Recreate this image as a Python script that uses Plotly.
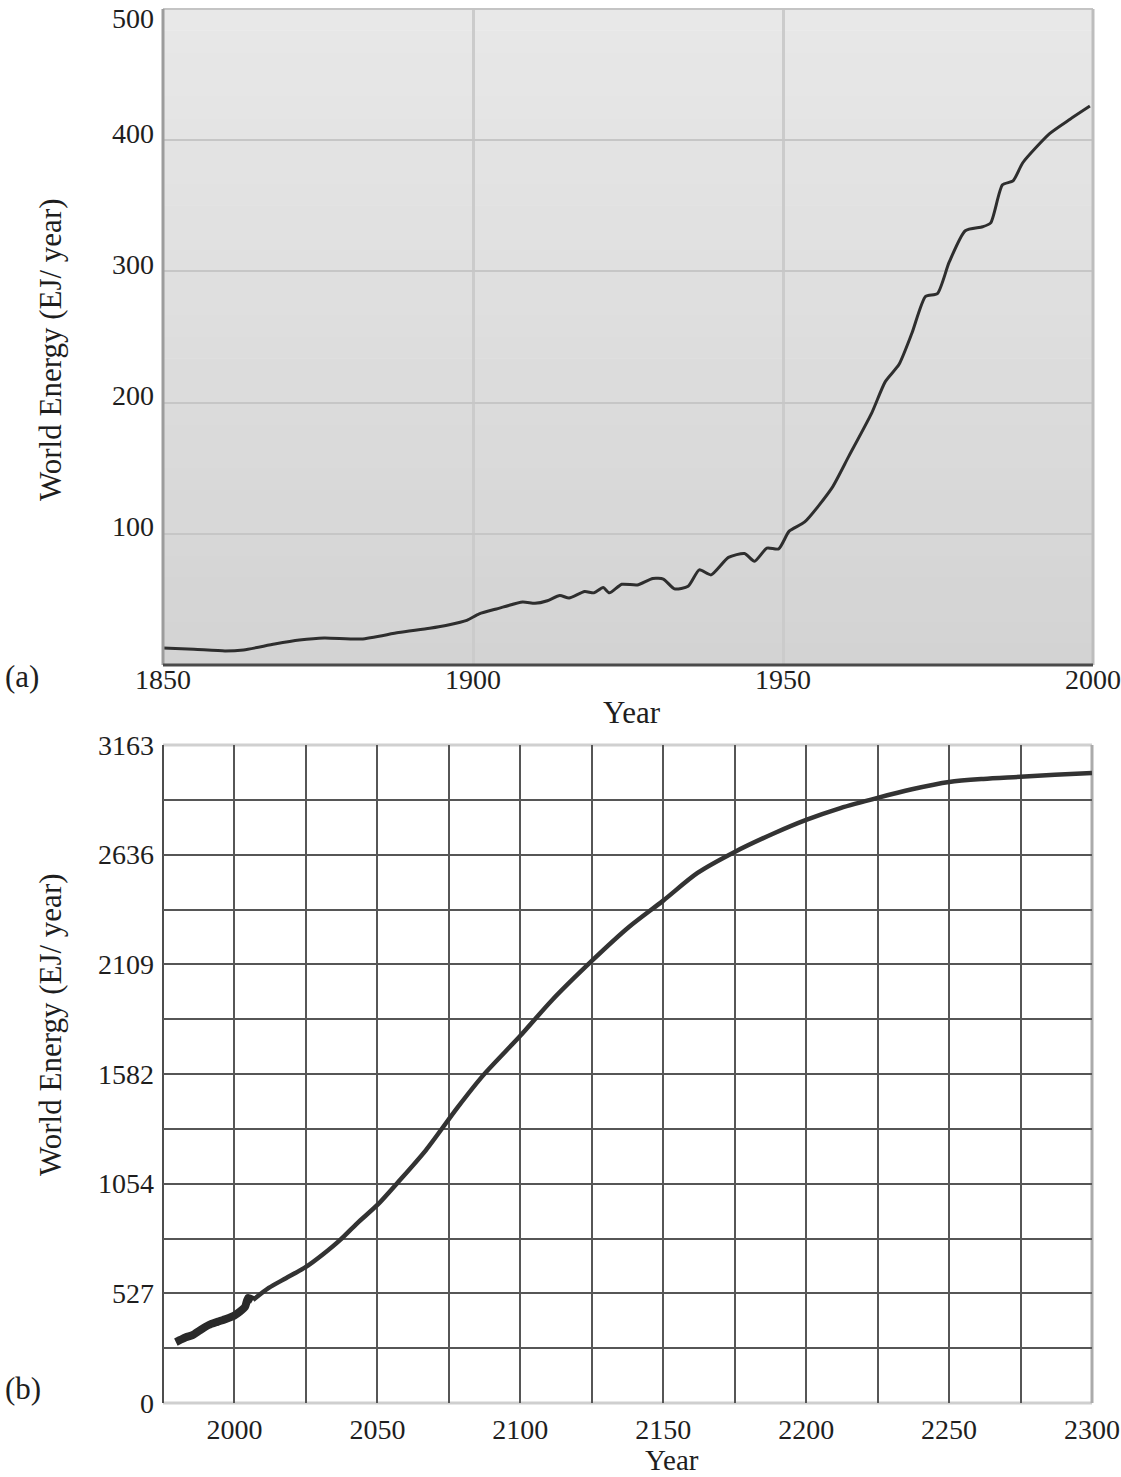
import plotly.graph_objects as go

# ---------------- data ----------------
# (a) historical world energy use, 1850-2000 (EJ/year)
hist_years = [1850, 1855, 1860, 1863, 1868, 1872, 1876, 1882, 1888, 1893, 1896, 1899,
              1901, 1904, 1908, 1910, 1912, 1914, 1915.5, 1918, 1919.5, 1921, 1922,
              1924, 1926.5, 1929, 1930.7, 1932.5, 1934.7, 1936.5, 1938.4, 1941.2,
              1943.8, 1945.4, 1947.4, 1949.3, 1951, 1953.5, 1957.9, 1960.6, 1964.3,
              1966.5, 1968.7, 1970.8, 1973, 1974.9, 1976.8, 1979.4, 1982.2, 1983.5,
              1985.4, 1987.1, 1988.7, 1993, 1996.3, 1999.5]
hist_energy = [13, 12, 10.7, 11.5, 16, 19, 20.6, 19.8, 24.7, 28, 30.5, 34,
               39, 43, 48, 47, 49, 53, 51, 56, 55, 59, 55,
               61.5, 61, 66, 65.5, 58, 60, 72.5, 68.7, 82,
               85, 79, 89, 88.5, 102, 109, 135, 159, 192,
               216, 229, 253, 281, 283, 307, 331, 334, 337,
               366, 369, 383, 405, 416, 426]

# (b) recent record and long-range projection, EJ/year
recent_years = [1979.5, 1981, 1983, 1985.5, 1988, 1991, 1994, 1997, 2000, 2002,
                2003.7, 2004.8, 2006.5]
recent_energy = [293, 303, 316, 327, 350, 375, 390, 404, 421, 440,
                 462, 505, 495]

proj_years = [2006.5, 2012, 2018, 2025, 2031, 2037, 2043, 2050, 2057, 2067,
              2078, 2087, 2100, 2111, 2125, 2138, 2150, 2162, 2175, 2189,
              2200, 2212, 2225, 2237, 2250, 2262, 2275, 2287, 2300]
proj_energy = [495, 553, 600, 654, 715, 784, 865, 952, 1058, 1216,
               1420, 1575, 1765, 1935, 2125, 2288, 2415, 2548, 2649, 2740,
               2803, 2860, 2909, 2950, 2985, 3000, 3010, 3020, 3029]

# axis ticks
a_x_ticks = [1850, 1900, 1950, 2000]
a_y_ticks = [100, 200, 300, 400, 500]
b_x_ticks = [2000, 2050, 2100, 2150, 2200, 2250, 2300]
b_y_max = 3163
b_y_labels = ["0", "527", "1054", "1582", "2109", "2636", "3163"]

# ---------------- layout helpers ----------------
W, H = 1121, 1477
FONT = "Liberation Serif, Times New Roman, serif"
TXT = "#1e1e1e"


def px(x):
    return x / W


def py(y):
    return 1 - y / H


A_LEFT, A_RIGHT, A_TOP, A_BOT = 163, 1093, 9, 665
B_LEFT, B_RIGHT, B_TOP, B_BOT = 163, 1092, 745, 1403

fig = go.Figure()

fig.add_trace(go.Scatter(
    x=hist_years, y=hist_energy, mode="lines", xaxis="x", yaxis="y",
    line=dict(color="#2e2e2e", width=3, shape="spline", smoothing=0.6),
    showlegend=False, hoverinfo="skip"))

fig.add_trace(go.Scatter(
    x=proj_years, y=proj_energy, mode="lines", xaxis="x2", yaxis="y2",
    line=dict(color="#333333", width=4.5, shape="spline", smoothing=0.8),
    showlegend=False, hoverinfo="skip"))

fig.add_trace(go.Scatter(
    x=recent_years, y=recent_energy, mode="lines", xaxis="x2", yaxis="y2",
    line=dict(color="#2a2a2a", width=8, shape="spline", smoothing=0.6),
    showlegend=False, hoverinfo="skip"))

shapes = []

# soft vertical shading behind panel (a)
n_bands = 30
top_c, bot_c = 232, 211
for i in range(n_bands):
    f0, f1 = i / n_bands, (i + 1) / n_bands
    c = round(bot_c + (top_c - bot_c) * (f0 + f1) / 2)
    shapes.append(dict(type="rect", xref="x domain", yref="y domain",
                       x0=0, x1=1, y0=f0, y1=f1 + 0.001, layer="below",
                       line=dict(width=0), fillcolor=f"rgb({c},{c},{c})"))

# frame of panel (a)
shapes += [
    dict(type="line", xref="x domain", yref="y domain", x0=0, x1=1, y0=1, y1=1,
         line=dict(color="#c4c4c4", width=2), layer="above"),
    dict(type="line", xref="x domain", yref="y domain", x0=1, x1=1, y0=0, y1=1,
         line=dict(color="#bdbdbd", width=3), layer="above"),
    dict(type="line", xref="x domain", yref="y domain", x0=0, x1=0, y0=0, y1=1,
         line=dict(color="#9c9c9c", width=3), layer="above"),
    dict(type="line", xref="x domain", yref="y domain", x0=0, x1=1, y0=0, y1=0,
         line=dict(color="#4a4a4a", width=3), layer="above"),
]

# frame of panel (b)
shapes += [
    dict(type="line", xref="x2 domain", yref="y2 domain", x0=0, x1=1, y0=1, y1=1,
         line=dict(color="#d0d0d0", width=3), layer="below"),
    dict(type="line", xref="x2 domain", yref="y2 domain", x0=0, x1=1, y0=0, y1=0,
         line=dict(color="#cfcfcf", width=3), layer="below"),
    dict(type="line", xref="x2 domain", yref="y2 domain", x0=0, x1=0, y0=0, y1=1,
         line=dict(color="#4d4d4d", width=2), layer="below"),
    dict(type="line", xref="x2 domain", yref="y2 domain", x0=1, x1=1, y0=0, y1=1,
         line=dict(color="#ababab", width=3), layer="below"),
]

grid_a = "#c6c6c6"
grid_b = "#565656"
b_step = b_y_max / (2 * (len(b_y_labels) - 1))
b_y_ticks = [b_y_max * i / (len(b_y_labels) - 1) for i in range(len(b_y_labels))]

tick_font = dict(family=FONT, size=28, color=TXT)
title_font = dict(family=FONT, size=31, color=TXT)

annotations = []
# y tick labels of panel (a), set slightly above their grid lines
for v in a_y_ticks:
    annotations.append(dict(
        x=0, xref="x domain", y=v, yref="y", xanchor="right", yanchor="middle",
        xshift=-7, yshift=(7 if v < 500 else -10), text=str(v), showarrow=False,
        font=tick_font))


def label(x, y, text, angle=0, yanchor="middle", size=31):
    return dict(x=px(x), y=py(y), xref="paper", yref="paper", text=text,
                textangle=angle, xanchor="center", yanchor=yanchor,
                borderpad=0, showarrow=False,
                font=dict(family=FONT, size=size, color=TXT))


annotations += [
    label(50, 350, "World Energy (EJ/ year)", -90),
    label(50, 1025, "World Energy (EJ/ year)", -90),
    label(632, 712, "Year"),
    label(672, 1477, "Year", yanchor="bottom", size=29),
    label(22, 676, "(a)"),
    label(23, 1388, "(b)"),
]

fig.update_layout(
    width=W, height=H,
    margin=dict(l=0, r=0, t=0, b=0, autoexpand=False),
    paper_bgcolor="white", plot_bgcolor="white",
    shapes=shapes, annotations=annotations,
    xaxis=dict(domain=[px(A_LEFT), px(A_RIGHT)], range=[1850, 2000], anchor="y",
               tickvals=a_x_ticks, ticks="", showgrid=False, zeroline=False,
               showline=False, tickfont=tick_font, ticklabelstandoff=-5,
               automargin=False,
               minor=dict(tickvals=a_x_ticks[1:-1], showgrid=True,
                          gridcolor="#cbcbcb", gridwidth=3, ticks="")),
    yaxis=dict(domain=[py(A_BOT), py(A_TOP)], range=[0, 500], anchor="x",
               showticklabels=False, ticks="", showgrid=False, zeroline=False,
               showline=False, automargin=False,
               minor=dict(tickvals=a_y_ticks[:-1], showgrid=True,
                          gridcolor=grid_a, gridwidth=2, ticks="")),
    xaxis2=dict(domain=[px(B_LEFT), px(B_RIGHT)], range=[1975, 2300], anchor="y2",
                tickvals=b_x_ticks, ticks="", showgrid=False, zeroline=False,
                showline=False, tickfont=tick_font, ticklabelstandoff=7,
                automargin=False,
                minor=dict(tickvals=[1975 + 25 * k for k in range(1, 13)],
                           showgrid=True, gridcolor=grid_b, gridwidth=2, ticks="")),
    yaxis2=dict(domain=[py(B_BOT), py(B_TOP)], range=[0, b_y_max], anchor="x2",
                tickvals=b_y_ticks, ticktext=b_y_labels, ticks="", showgrid=False,
                zeroline=False, showline=False, tickfont=tick_font,
                ticklabelstandoff=8, automargin=False,
                minor=dict(tickvals=[b_step * k for k in range(1, 12)],
                           showgrid=True, gridcolor=grid_b, gridwidth=2, ticks="")),
)

fig.write_html("out.html")
